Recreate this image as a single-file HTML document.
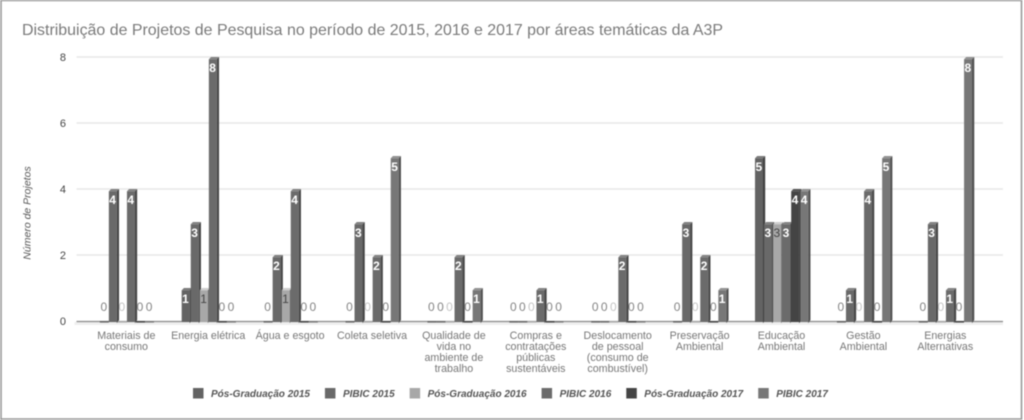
<!DOCTYPE html>
<html lang="pt">
<head>
<meta charset="utf-8">
<title>Distribuição de Projetos de Pesquisa</title>
<style>
html,body{margin:0;padding:0;background:#fff;width:1024px;height:420px;overflow:hidden}
svg{display:block;filter:blur(0.45px)}
text{font-family:"Liberation Sans",sans-serif}
</style>
</head>
<body>
<svg id="chart" width="1024" height="420" viewBox="0 0 1024 420" xmlns="http://www.w3.org/2000/svg">
<rect x="0" y="0" width="1024" height="420" fill="#fff"/>
<path d="M1 420V0.5H1021.5V419H1" fill="none" stroke="#999" stroke-width="1.6"/>
<text x="22" y="35" font-size="16" fill="#7a7a7a" textLength="701" lengthAdjust="spacingAndGlyphs">Distribuição de Projetos de Pesquisa no período de 2015, 2016 e 2017 por áreas temáticas da A3P</text>
<text transform="translate(30.5,213) rotate(-90)" text-anchor="middle" font-size="10.5" font-style="italic" fill="#555">Número de Projetos</text>
<g id="grid"></g>
<g id="bars"></g>
<g id="labels"></g>
<g id="cats"></g>
<g id="legend"></g>
</svg>
<script>
const categories = [
  ["Materiais de","consumo"],
  ["Energia elétrica"],
  ["Água e esgoto"],
  ["Coleta seletiva"],
  ["Qualidade de","vida no","ambiente de","trabalho"],
  ["Compras e","contratações","públicas","sustentáveis"],
  ["Deslocamento","de pessoal","(consumo de","combustível)"],
  ["Preservação","Ambiental"],
  ["Educação","Ambiental"],
  ["Gestão","Ambiental"],
  ["Energias","Alternativas"]
];
const seriesNames = ["Pós-Graduação 2015","PIBIC 2015","Pós-Graduação 2016","PIBIC 2016","Pós-Graduação 2017","PIBIC 2017"];
const posGraduacao2015 = [0,1,0,0,0,0,0,0,5,0,0];
const pibic2015        = [4,3,2,3,0,0,0,3,3,1,3];
const posGraduacao2016 = [0,1,1,0,0,0,0,0,3,0,0];
const pibic2016        = [4,8,4,2,2,1,2,2,3,4,1];
const posGraduacao2017 = [0,0,0,0,0,0,0,0,4,0,0];
const pibic2017        = [0,0,0,5,1,0,0,1,4,5,8];
const yTicks = [0,2,4,6,8];
const seriesColors = ["#636363","#696969","#a8a8a8","#6b6b6b","#444444","#777777"];
const allSeries = [posGraduacao2015,pibic2015,posGraduacao2016,pibic2016,posGraduacao2017,pibic2017];

const NS = "http://www.w3.org/2000/svg";
const plotLeft = 76.5, plotRight = 1003, baseY = 321, topY = 57, yMax = 8;
const firstGroup = 99.8, groupStep = 81.9, barStep = 9.05, frontW = 8, depth = 2.2;
const yScale = v => baseY - (v / yMax) * (baseY - topY);
const xScale = (c, s) => firstGroup + c * groupStep + s * barStep;

function make(parent, tag, attrs, txt) {
  const el = document.createElementNS(NS, tag);
  for (const k in attrs) el.setAttribute(k, attrs[k]);
  if (txt !== undefined) el.textContent = txt;
  parent.appendChild(el);
  return el;
}
function shade(hex, f) {
  const n = parseInt(hex.slice(1), 16);
  const c = v => Math.max(0, Math.min(255, Math.round(v * f)));
  return "rgb(" + c(n >> 16) + "," + c((n >> 8) & 255) + "," + c(n & 255) + ")";
}

const grid = document.getElementById("grid");
const bars = document.getElementById("bars");
const labels = document.getElementById("labels");
const cats = document.getElementById("cats");
const legend = document.getElementById("legend");

yTicks.forEach(t => {
  const y = yScale(t);
  if (t > 0) {
    const ln = make(grid, "line", {x1: plotLeft, x2: plotRight, y1: y, y2: y, stroke: "#e8e8e8", "stroke-width": 1.6});
    
    
  }
  const tl = make(grid, "text", {x: 66, y: y + 4, "text-anchor": "end", "font-size": 11, fill: "#444"}, t);
  
  
});

const floorBand = make(grid, "rect", {x: plotLeft - 2, y: baseY + 1, width: plotRight - plotLeft + 2, height: 3, fill: "#efefef"});


const axisLine = make(grid, "line", {x1: plotLeft, x2: plotRight, y1: baseY + 0.5, y2: baseY + 0.5, stroke: "#8a8a8a", "stroke-width": 1.3});



categories.forEach((lines, c) => {
  allSeries.forEach((series, s) => {
    const v = series[c];
    const x = xScale(c, s);
    const col = seriesColors[s];
    const g = make(bars, "g", {});
    
    
    if (v > 0) {
      const top = yScale(v);
      const ft = top + depth;
      make(g, "rect", {x: x, y: ft, width: frontW, height: baseY + 1 - ft, fill: col});
      make(g, "path", {d: "M" + (x + frontW) + " " + ft + "l" + depth + " " + (-depth) + "V" + (baseY - 1) + "l" + (-depth) + " " + (depth + 1) + "Z", fill: shade(col, 0.66)});
      make(g, "path", {d: "M" + x + " " + ft + "l" + depth + " " + (-depth) + "h" + frontW + "l" + (-depth) + " " + depth + "Z", fill: shade(col, 1.22)});
      const lb = make(labels, "text", {x: x + frontW / 2 - 0.2, y: ft + 13, "text-anchor": "middle", "font-size": 12, "font-weight": s === 2 ? "normal" : "bold", fill: s === 2 ? "#444" : "#fff"}, v);
      
      
    } else {
      make(g, "rect", {x: x, y: baseY, width: frontW + 1, height: 1.6, fill: col});
      const lb = make(labels, "text", {x: x + frontW / 2, y: baseY - 10, "text-anchor": "middle", "font-size": 12, fill: s === 2 ? "#c4c4c4" : "#848484"}, v);
      
      
    }
  });
  const cx = firstGroup + c * groupStep + 26.5;
  lines.forEach((ln, i) => {
    const t = make(cats, "text", {x: cx, y: 339 + i * 11, "text-anchor": "middle", "font-size": 10.7, fill: "#777"}, ln);
    
    
  });
});

let lx = 193;
seriesNames.forEach((name, s) => {
  const g = make(legend, "g", {});
  
  
  make(g, "rect", {x: lx, y: 388, width: 10.5, height: 10.5, fill: seriesColors[s]});
  const t = make(g, "text", {x: lx + 18, y: 397, "font-size": 10, "font-style": "italic", "font-weight": "bold", fill: "#555"}, name);
  lx += 18 + t.getComputedTextLength() + 15;
});
</script>
</body>
</html>
